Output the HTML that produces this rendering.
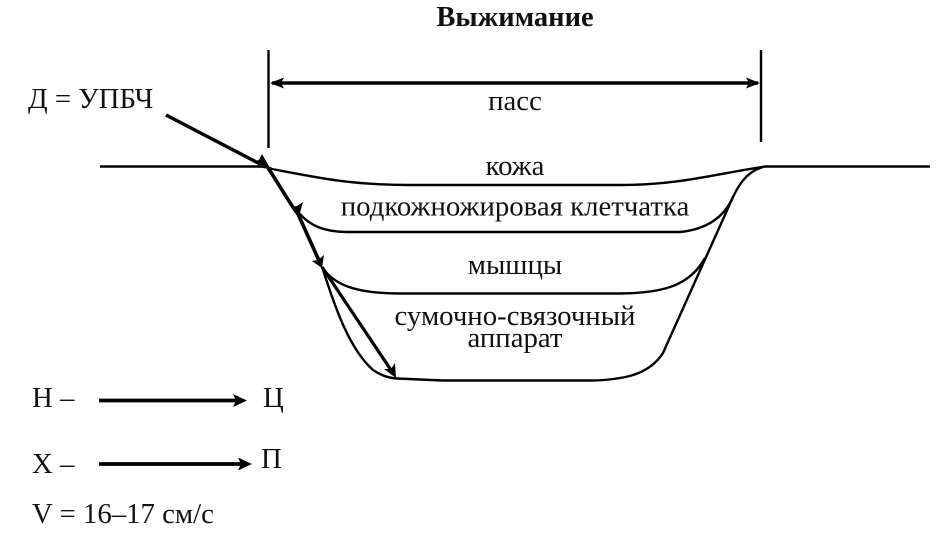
<!DOCTYPE html>
<html><head><meta charset="utf-8"><style>
html,body{margin:0;padding:0;background:#fff}
svg{display:block}
text{font-family:"Liberation Serif","Noto Serif CJK SC",serif;font-size:28.8px;fill:#111}
</style></head><body>
<svg width="947" height="544" viewBox="0 0 947 544" xmlns="http://www.w3.org/2000/svg">
<text x="515" y="26" text-anchor="middle" font-weight="bold" style="font-size:28.5px">Выжимание</text>
<g fill="none" stroke="#000" stroke-width="2.4" stroke-linecap="butt">
<path d="M268.5 50V148"/>
<path d="M761 50V142"/>
<path d="M272 83H758" stroke-width="3.4"/>
<path d="M100 166.5H258Q266 166.5 272 169C320 178 350 185 410 185H620C680 185 715 174 765 166.5H930"/>
<path d="M299 213C310 226 325 232 347 232H680C700 230 722 222 733 197"/>
<path d="M322 267C332 282 350 293.5 400 293.5H620C665 293 690 285 705 258"/>
<path d="M322 267C330 290 345 345 373 370Q385 378 397 378.5L443 380.5H590Q606 380.5 620 378C640 375 654 367 663 353L733 197C741 180 750 170 765 166.5"/>
<path d="M166 115L262 165" stroke-width="3.4"/>
<path d="M268 168C279 184 289 203 298 214" stroke-width="3.6"/>
<path d="M298 214L321 265" stroke-width="3.6"/>
<path d="M322 267L393 373" stroke-width="3.2"/>
<path d="M99 400.5H236M99 464H242" stroke-width="3.8"/>
</g>
<g fill="#000">
<path d="M270 83L284 77.5L281 83L284 88.5Z"/>
<path d="M760 83L746 77.5L749 83L746 88.5Z"/>
<path d="M270 168L252 162L259 160L262 154Z"/>
<path d="M299 216L291 207L297 206L303 202Z"/>
<path d="M322 268L312 261L318 260L324 255Z"/>
<path d="M396 378L384 369L391 369L395 363Z"/>
<path d="M247 400.5L233 394L236 400.5L233 407Z"/>
<path d="M252 464L238 457.5L241 464L238 470.5Z"/>
</g>
<text x="28" y="108">Д = УПБЧ</text>
<text x="515" y="110" text-anchor="middle">пасс</text>
<text x="515" y="175" text-anchor="middle">кожа</text>
<text x="515" y="215.5" text-anchor="middle">подкожножировая клетчатка</text>
<text x="515" y="274" text-anchor="middle">мышцы</text>
<text x="515" y="325" text-anchor="middle">сумочно-связочный</text>
<text x="515" y="347" text-anchor="middle">аппарат</text>
<text x="32" y="407">Н –</text>
<text x="32" y="473">Х –</text>
<text x="263" y="407">Ц</text>
<text x="261" y="468">П</text>
<text x="32" y="523">V = 16–17 см/с</text>
</svg>
</body></html>
